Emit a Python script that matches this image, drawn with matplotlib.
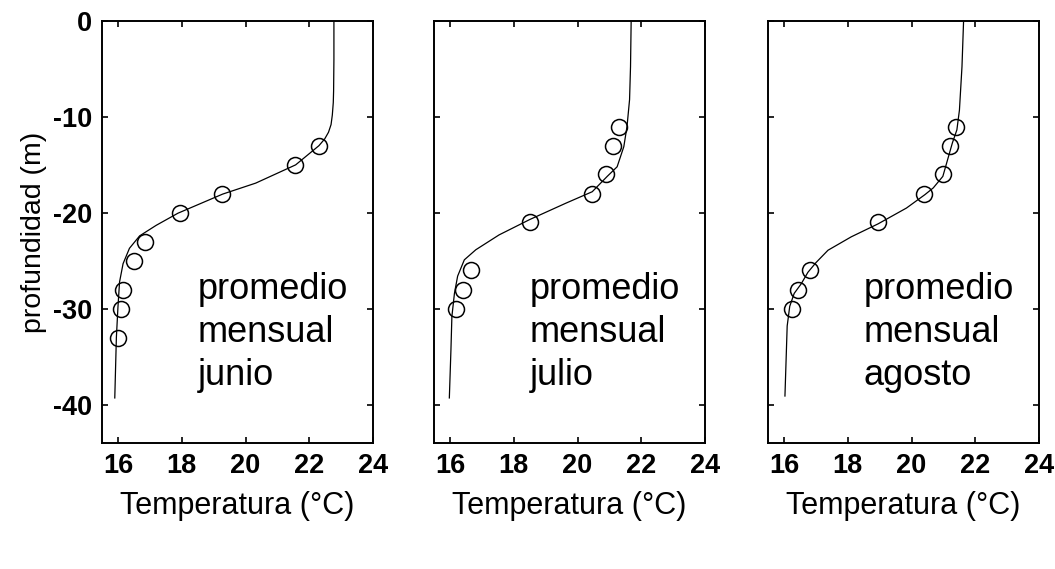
import matplotlib.pyplot as plt # import matplotlib

plt.rcParams['font.family'] = ['Liberation Sans', 'DejaVu Sans'] # Arial-like font
plt.rcParams['axes.unicode_minus'] = False # plain hyphen for negative ticks

months = ["junio", "julio", "agosto"] # month of each panel

# measured points (temperature, depth)
junio_temp = [22.3, 21.55, 19.25, 17.95, 16.85, 16.5, 16.15, 16.1, 16.0]
junio_depth = [-13, -15, -18, -20, -23, -25, -28, -30, -33]
julio_temp = [21.3, 21.1, 20.9, 20.45, 18.5, 16.65, 16.4, 16.2]
julio_depth = [-11, -13, -16, -18, -21, -26, -28, -30]
agosto_temp = [21.4, 21.2, 21.0, 20.4, 18.95, 16.8, 16.45, 16.25]
agosto_depth = [-11, -13, -16, -18, -21, -26, -28, -30]

# fitted profile (temperature, depth)
junio_fit_temp = [22.77, 22.77, 22.76, 22.75, 22.72, 22.68, 22.6, 22.48, 22.3, 21.57, 20.32, 19.28, 17.88, 17.2, 16.68, 16.36, 16.16, 16.05, 16.0, 15.95, 15.9]
junio_fit_depth = [0, -4, -7.3, -8.5, -9.8, -10.8, -11.6, -12.3, -13, -15, -16.9, -18.05, -20.04, -21.3, -22.4, -23.7, -25.3, -27.2, -29.8, -33, -39.3]
julio_fit_temp = [21.68, 21.66, 21.63, 21.55, 21.45, 21.24, 20.93, 20.46, 19.63, 18.5, 17.54, 16.81, 16.45, 16.24, 16.14, 16.06, 16.03, 15.98]
julio_fit_depth = [0, -4.76, -8.2, -11.0, -13.1, -15.2, -16.2, -17.8, -19.0, -20.7, -22.3, -23.85, -24.9, -26.6, -28.4, -30.8, -34.3, -39.3]
agosto_fit_temp = [21.63, 21.58, 21.5, 21.42, 21.28, 21.16, 20.98, 20.68, 20.42, 19.84, 18.95, 18.11, 17.38, 17.0, 16.75, 16.54, 16.32, 16.18, 16.1, 16.03]
agosto_fit_depth = [0, -4.76, -9.3, -11.35, -12.7, -14.1, -16.2, -17.4, -18.1, -19.5, -21.15, -22.5, -23.9, -25.2, -26.2, -27.4, -28.4, -29.75, -31.8, -39.1]

x_ticks = [16, 18, 20, 22, 24]
y_ticks = [0, -10, -20, -30, -40]

points = [(junio_temp, junio_depth), (julio_temp, julio_depth), (agosto_temp, agosto_depth)]
fits = [(junio_fit_temp, junio_fit_depth), (julio_fit_temp, julio_fit_depth), (agosto_fit_temp, agosto_fit_depth)]
lefts = [0.0967, 0.4114, 0.728] # left edge of each panel

fig = plt.figure(figsize=(10.55, 5.69), dpi=100)
for i in range(3):
    ax = fig.add_axes([lefts[i], 0.2214, 0.257, 0.7417])
    ax.plot(fits[i][0], fits[i][1], color="black", linewidth=0.9) # fitted profile
    ax.plot(points[i][0], points[i][1], linestyle="none", marker="o", markersize=11.5,
            markerfacecolor="none", markeredgecolor="black", markeredgewidth=1.1) # measurements
    ax.set_xlim(15.5, 24)
    ax.set_ylim(-44, 0)
    ax.set_xticks(x_ticks)
    ax.set_yticks(y_ticks)
    ax.tick_params(direction="in", top=True, right=True, length=4, width=1.2, labelsize=19.5, pad=7)
    for lab in ax.get_xticklabels() + ax.get_yticklabels():
        lab.set_fontweight("bold")
    if i > 0:
        ax.set_yticklabels([])
    else:
        ax.set_ylabel("profundidad (m)", fontsize=20.5, labelpad=4)
    ax.set_xlabel("Temperatura (°C)", fontsize=22, labelpad=9)
    for s in ax.spines.values():
        s.set_linewidth(1.4)
    ax.text(18.5, -28, "promedio", fontsize=26, va="center") # panel caption
    ax.text(18.5, -32.5, "mensual", fontsize=26, va="center")
    ax.text(18.5, -37, months[i], fontsize=26, va="center")

plt.savefig("out.png", dpi=100)
